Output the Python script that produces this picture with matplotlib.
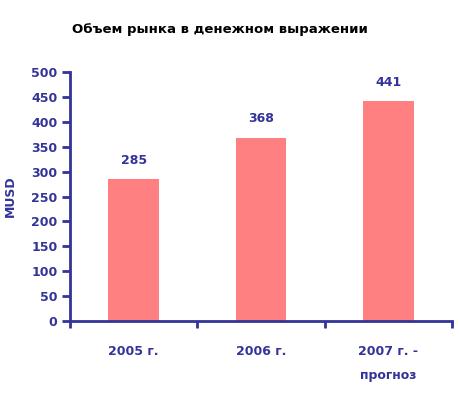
import matplotlib
matplotlib.use("Agg")
import numpy as np
import matplotlib.pyplot as plt

# chart data
categories = ["2005 г.", "2006 г.", "2007 г. -\nпрогноз"]
values = [285, 368, 441]
y_ticks = [0, 50, 100, 150, 200, 250, 300, 350, 400, 450, 500]

navy = "#333399"
bar_color = "#FF8080"

plt.rcParams['font.family'] = ['DejaVu Sans']
plt.rcParams['font.weight'] = 'bold'

fig = plt.figure(figsize=(4.59, 3.93), dpi=100)
ax = fig.add_axes([70 / 459, 1 - 321 / 393, (452 - 70) / 459, (321 - 72) / 393])

x = np.arange(len(values))
ax.bar(x, values, width=0.4, color=bar_color, zorder=2)

for xi, v in zip(x, values):
    ax.annotate(str(v), (xi, v), xytext=(0, 9), textcoords="offset points",
                ha="center", va="bottom", color=navy, fontsize=9, fontweight="bold")

ax.set_xlim(-0.5, len(values) - 0.5)
ax.set_ylim(0, 500)
ax.set_yticks(y_ticks)
ax.set_yticklabels([str(t) for t in y_ticks], color=navy, fontsize=9, fontweight="bold")

# category ticks sit between bars, labels in the middle
ax.set_xticks(np.arange(len(values) + 1) - 0.5)
ax.set_xticklabels([])
ax.set_xticks(x, minor=True)
ax.set_xticklabels(categories, minor=True, color=navy, fontsize=9,
                   fontweight="bold", linespacing=2.1, va="top")
ax.tick_params(axis="x", which="minor", length=0, pad=17)
ax.tick_params(axis="x", which="major", direction="out", length=5, width=2, color=navy)
ax.tick_params(axis="y", direction="out", length=6, width=2, color=navy, pad=3)

for side in ["top", "right"]:
    ax.spines[side].set_visible(False)
for side in ["left", "bottom"]:
    ax.spines[side].set_color(navy)
    ax.spines[side].set_linewidth(2)

ax.set_ylabel("MUSD", color=navy, fontsize=9, fontweight="bold", labelpad=10)

fig.text(220 / 459, 1 - 29 / 393, "Объем рынка в денежном выражении",
         ha="center", va="center", fontsize=9.5, fontweight="bold", color="black")

fig.savefig("out.png", dpi=100)
